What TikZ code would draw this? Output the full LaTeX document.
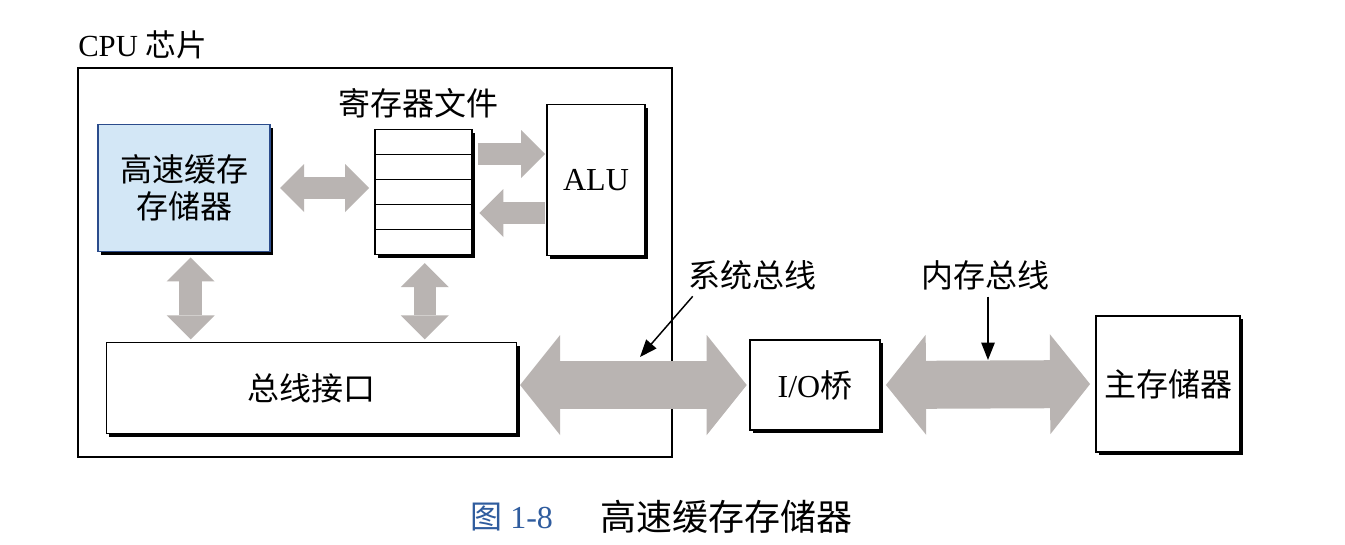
\documentclass[tikz,border=0pt]{standalone}
\usepackage{fontspec}
\setmainfont{Liberation Serif}
\newfontfamily\cjk{Noto Sans CJK SC}
\usepackage{tikz}
\usetikzlibrary{positioning,arrows.meta,calc,shadows}
\definecolor{cachefill}{HTML}{D3E7F6}
\definecolor{cacheline}{HTML}{2B4C8C}
\definecolor{busgray}{HTML}{B9B4B2}
\definecolor{capblue}{HTML}{2F5C9E}
\newcommand{\zh}[1]{{\cjk #1}}
\newcommand{\unitfont}{\fontsize{24}{28}\selectfont}
\tikzset{
  unit/.style      = {rectangle, draw=black, fill=white, line width=0.9pt, inner sep=0pt,
                      align=center, font=\unitfont,
                      drop shadow={shadow xshift=2.4pt, shadow yshift=-2.4pt, fill=black, opacity=1}},
  tag/.style       = {font=\unitfont, inner sep=1pt},
  widebus/.style   = {draw=busgray, line width=36pt,
                      {Triangle[length=30pt,width=75pt,line width=0pt]}-{Triangle[length=30pt,width=75pt,line width=0pt]}},
  narrowbus/.style = {draw=busgray, line width=17pt,
                      {Triangle[length=18pt,width=36pt,line width=0pt]}-{Triangle[length=18pt,width=36pt,line width=0pt]}},
  oneway/.style    = {draw=busgray, line width=17pt, -{Triangle[length=18pt,width=36pt,line width=0pt]}},
  pointer/.style   = {-{Triangle[length=13pt,width=10pt]}, line width=1.1pt, draw=black},
}

\begin{document}
\begin{tikzpicture}[x=0.75pt, y=-0.75pt]
  \useasboundingbox[fill=white] (0,0) rectangle (1345,544);

  %% ---- the chip and what sits on it ----------------------------------------
  \node[anchor=west, font=\fontsize{23}{26}\selectfont, inner sep=0pt] (chipname) at (78,45) {CPU \zh{芯片}};
  \draw[line width=2pt] (78,68) rectangle (672,457);

  \node[unit, fill=cachefill, draw=cacheline, line width=1.2pt,
        minimum width=129pt, minimum height=95pt] (cache) at (184,188) {\zh{高速缓存}\\\zh{存储器}};
  \node[unit, minimum width=72.75pt, minimum height=93.75pt] (reg) at (423.5,192) {};
  \foreach \k in {1,...,4} {
    \draw[line width=0.9pt] ($(reg.north west)!\k/5!(reg.south west)$) -- ($(reg.north east)!\k/5!(reg.south east)$); }
  \node[tag] (regname) at (418,103) {\zh{寄存器文件}};
  \node[unit, minimum width=73.5pt, minimum height=113pt] (alu) at (596,180) {ALU};
  \node[unit, minimum width=308pt, minimum height=68pt] (bus) at (311.5,388) {\zh{总线接口}};

  %% ---- off the chip ---------------------------------------------------------
  \node[unit, minimum width=97.5pt, minimum height=67.5pt] (io) at (815,385) {I/O\zh{桥}};
  \node[unit, minimum width=108pt, minimum height=102pt] (mem) at (1168,384) {\zh{主存储器}};

  % the wide gray buses
  \coordinate (upper) at (0,154);
  \coordinate (lower) at (0,213);
  \draw[narrowbus, shorten <=7pt, shorten >=4pt] (cache.east) -- (cache.east -| reg.west);
  \draw[oneway, shorten <=4pt, shorten >=1pt] (reg.east |- upper) -- (alu.west |- upper);
  \draw[oneway, shorten <=1pt, shorten >=5pt] (alu.west |- lower) -- (reg.east |- lower);
  \draw[narrowbus, shorten <=4pt, shorten >=2pt] ([xshift=5pt]cache.south) -- ([xshift=5pt]cache.south |- bus.north);
  \draw[narrowbus, shorten <=6pt, shorten >=2pt] ([xshift=1pt]reg.south) -- ([xshift=1pt]reg.south |- bus.north);
  \draw[widebus, shorten <=2pt, shorten >=2pt] (bus.east |- io.west) -- (io.west);
  \draw[widebus, shorten <=4pt, shorten >=4pt] (io.east) -- (mem.west);

  % bus names
  \node[tag] (sysname) at (752,275) {\zh{系统总线}};
  \coordinate (systip) at (640,357);
  \draw[pointer, shorten <=5pt] ([xshift=8pt]sysname.south west) -- (systip);
  \node[tag] (memname) at (985,275) {\zh{内存总线}};
  \coordinate (memtip) at (988,360);
  \draw[pointer, shorten <=4pt] (memname.south -| memtip) -- (memtip);

  %% ---- caption ---------------------------------------------------------------
  \node[anchor=west, font=\fontsize{24}{28}\selectfont, text=capblue, inner sep=0pt] (fignum) at (470,517) {\zh{图} 1-8};
  \node[anchor=west, font=\fontsize{27}{30}\selectfont, inner sep=0pt] (figtitle) at (600,517) {\zh{高速缓存存储器}};
\end{tikzpicture}
\end{document}
